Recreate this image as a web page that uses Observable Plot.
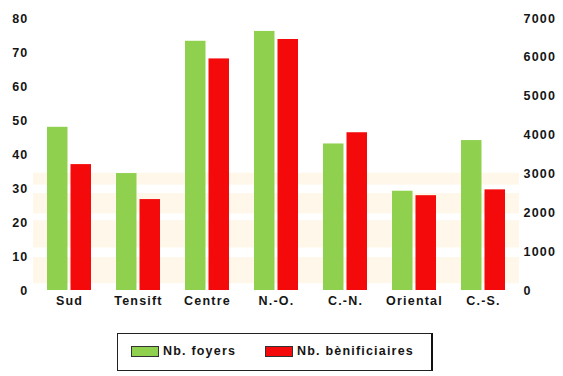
<!DOCTYPE html>
<html>
<head>
<meta charset="utf-8">
<script src="https://cdn.jsdelivr.net/npm/d3@7"></script>
<script src="https://cdn.jsdelivr.net/npm/@observablehq/plot@0.6"></script>
<style>
  body { margin: 0; background: #fff; font-family: "Liberation Sans", Arial, sans-serif; }
  #wrap { position: relative; width: 563px; height: 376px; }
  #legend {
    position: absolute; left: 117px; top: 333px; width: 316px; height: 38px;
    border: 1px solid #222; border-right: 2px solid #111; box-sizing: border-box;
    font-size: 12.5px; font-weight: bold; letter-spacing: 1.2px; color: #151515;
  }
  .sw { position: absolute; top: 12px; width: 28px; height: 11px; border: 1px solid #333; box-sizing: border-box; }
  .lt { position: absolute; top: 10px; }
</style>
</head>
<body>
<div id="wrap">
  <div id="chart"></div>
  <div id="legend">
    <div class="sw" style="left:13px;background:#8fd14f;"></div>
    <div class="lt" style="left:45px;">Nb. foyers</div>
    <div class="sw" style="left:147px;background:#f40a0a;"></div>
    <div class="lt" style="left:179px;">Nb. bènificiaires</div>
  </div>
</div>
<script>
const regions = ["Sud", "Tensift", "Centre", "N.-O.", "C.-N.", "Oriental", "C.-S."];
const foyers = [48, 34.4, 73.3, 76.2, 43.1, 29.2, 44.1];            // left axis
const beneficiaires = [3240, 2340, 5960, 6460, 4060, 2440, 2590];   // right axis
const leftTicks = [0, 10, 20, 30, 40, 50, 60, 70, 80];
const rightTicks = [0, 1000, 2000, 3000, 4000, 5000, 6000, 7000];
const ratio = 7000 / 80;
const bgBands = [[2, 9.7], [12.5, 20.5], [22.5, 28.5], [31, 34.5]];

const green = "#8fd14f", red = "#f40a0a";
const dataG = regions.map((r, i) => ({region: r, v: foyers[i]}));
const dataR = regions.map((r, i) => ({region: r, v: beneficiaires[i]}));

const chart = Plot.plot({
  width: 563,
  height: 315,
  marginLeft: 35,
  marginRight: 45,
  marginTop: 18,
  marginBottom: 25,
  style: {fontFamily: "Liberation Sans, Arial, sans-serif", fontSize: "12.5px", fontWeight: "bold", color: "#151515", letterSpacing: "1.2px"},
  x: {domain: regions, paddingInner: 0.36, paddingOuter: 0.18, label: null},
  y: {domain: [0, 80], label: null},
  marks: [
    Plot.rectY(bgBands, {y1: d => d[0], y2: d => d[1], x1: () => regions[0], x2: () => regions[regions.length - 1], fill: "#fbe3b8", fillOpacity: 0.3, insetLeft: -14, insetRight: -14}),
    Plot.barY(dataG, {x: "region", y: "v", fill: green, insetRight: 23.5}),
    Plot.barY(dataR, {x: "region", y: d => d.v / ratio, fill: red, insetLeft: 23.5}),
    Plot.axisY(leftTicks, {anchor: "left", tickSize: 0, tickPadding: 7, label: null}),
    Plot.axisY(rightTicks.map(v => v / ratio), {anchor: "right", tickSize: 0, tickPadding: 5, tickFormat: d => String(Math.round(d * ratio)), label: null}),
    Plot.axisX({tickSize: 0, tickPadding: 6, label: null})
  ]
});
document.getElementById("chart").appendChild(chart);
</script>
</body>
</html>
